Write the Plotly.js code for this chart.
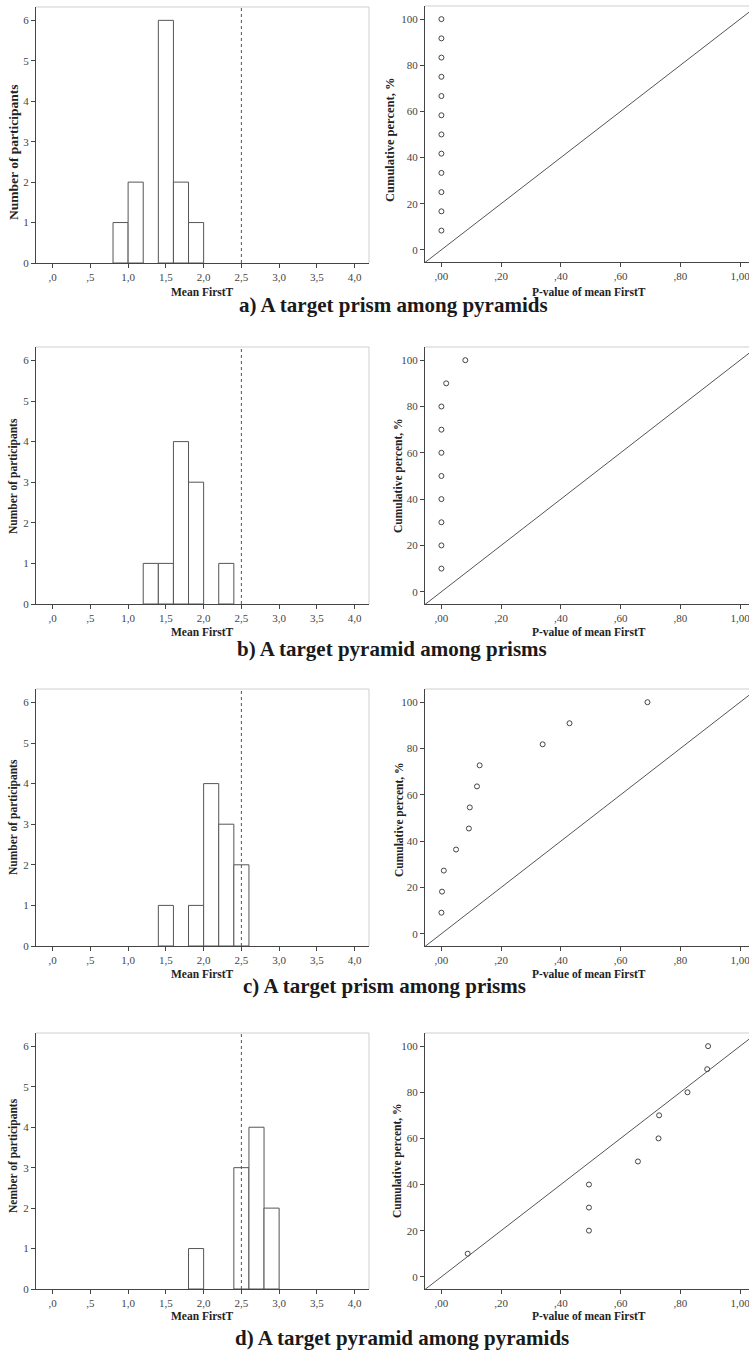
<!DOCTYPE html>
<html>
<head>
<meta charset="utf-8">
<script src="https://cdn.plot.ly/plotly-3.0.1.min.js"></script>
<style>html,body{margin:0;padding:0;background:#fff;}#chart{width:749px;height:1351px;}</style>
</head>
<body>
<div id="chart"></div>
<script>
// ---------- DATA ----------
const panelCaptions = ["a) A target prism among pyramids", "b) A target pyramid among prisms", "c) A target prism among prisms", "d) A target pyramid among pyramids"];
const histXTitle = "Mean FirstT";
const histYTitles = ["Number of participants", "Number of participants", "Number of participants", "Nember of participants"];
const ppXTitle = "P-value of mean FirstT";
const ppYTitle = "Cumulative percent, %";

const histTickVals = [0, 0.5, 1, 1.5, 2, 2.5, 3, 3.5, 4];
const histTickText = [",0", ",5", "1,0", "1,5", "2,0", "2,5", "3,0", "3,5", "4,0"];
const histYTicks = [0, 1, 2, 3, 4, 5, 6];
const ppTickVals = [0, 0.2, 0.4, 0.6, 0.8, 1.0];
const ppTickText = [",00", ",20", ",40", ",60", ",80", "1,00"];
const ppYTicks = [0, 20, 40, 60, 80, 100];
const criterionValue = 2.5;
const binWidth = 0.2;

// histograms: bin start and count
const binStartA = [0.8, 1.0, 1.4, 1.6, 1.8];
const countsA   = [1, 2, 6, 2, 1];
const binStartB = [1.2, 1.4, 1.6, 1.8, 2.2];
const countsB   = [1, 1, 4, 3, 1];
const binStartC = [1.4, 1.8, 2.0, 2.2, 2.4];
const countsC   = [1, 1, 4, 3, 2];
const binStartD = [1.8, 2.4, 2.6, 2.8];
const countsD   = [1, 3, 4, 2];

// P-P plots: p-value and cumulative percent
const pvalA = [0, 0, 0, 0, 0, 0, 0, 0, 0, 0, 0, 0];
const cumA  = [8.33, 16.67, 25, 33.33, 41.67, 50, 58.33, 66.67, 75, 83.33, 91.67, 100];
const pvalB = [0, 0, 0, 0, 0, 0, 0, 0, 0.016, 0.08];
const cumB  = [10, 20, 30, 40, 50, 60, 70, 80, 90, 100];
const pvalC = [0.0, 0.002, 0.008, 0.049, 0.092, 0.095, 0.119, 0.128, 0.339, 0.429, 0.690];
const cumC  = [9.09, 18.18, 27.27, 36.36, 45.45, 54.55, 63.64, 72.73, 81.82, 90.91, 100];
const pvalD = [0.088, 0.494, 0.494, 0.494, 0.658, 0.727, 0.729, 0.824, 0.89, 0.893];
const cumD  = [10, 20, 30, 40, 50, 60, 70, 80, 90, 100];
// reference line (expected = observed)
const refLineP = [-0.2, 1.2];

const hists = [[binStartA, countsA], [binStartB, countsB], [binStartC, countsC], [binStartD, countsD]];
const pps = [[pvalA, cumA], [pvalB, cumB], [pvalC, cumC], [pvalD, cumD]];

// ---------- LAYOUT GEOMETRY (pixels) ----------
const W = 749, H = 1351;
const px = v => v / W;
const py = v => 1 - v / H;
const leftX = [36, 369];
const rightX = [425, 749];
// [top, bottom] of plot areas
const leftY = [[7, 263], [347, 604], [689, 946], [1033, 1289]];
const rightY = [[6, 262], [347, 604], [689, 946], [1033, 1289]];
const captionY = [305, 649, 986, 1338];
const captionX = [393, 392, 385, 402];
const xTitleY = [292, 632, 974, 1316];
const leftYTitleX = [13, 14, 13, 13];
const leftYTitleC = [152, 476, 817, 1156];
const leftYTitleSize = [13.5, 11.5, 11.5, 11.5];
const rightYTitleX = [390, 399, 399, 397];
const rightYTitleC = [140, 476, 820, 1161];
const rightYTitleSize = [12.5, 11.5, 11.5, 11.5];

const SERIF = "Liberation Serif, Times New Roman, serif";
const AX = "#444";
const FRAME = "#cfcfcf";

const traces = [];
const layout = {
  width: W, height: H,
  margin: {l: 0, r: 0, t: 0, b: 0},
  paper_bgcolor: "#fff", plot_bgcolor: "#fff",
  showlegend: false,
  font: {family: SERIF, color: "#333"},
  shapes: [], annotations: []
};

function axisBase() {
  return {
    showgrid: false, zeroline: false, showline: true, linecolor: AX, linewidth: 1,
    ticks: "outside", ticklen: 4, tickcolor: AX, tickwidth: 1,
    tickfont: {family: SERIF, size: 11, color: "#444"},
    ticklabeloverflow: "allow",
    fixedrange: true
  };
}

for (let i = 0; i < 4; i++) {
  const nL = 2 * i + 1, nR = 2 * i + 2;
  const xL = "x" + nL, yL = "y" + nL, xR = "x" + nR, yR = "y" + nR;
  const xLk = "xaxis" + nL, yLk = "yaxis" + nL, xRk = "xaxis" + nR, yRk = "yaxis" + nR;

  // histogram bars
  traces.push({
    type: "bar", x: hists[i][0], y: hists[i][1], width: binWidth, offset: 0,
    marker: {color: "#ffffff", line: {color: "#555", width: 1}},
    xaxis: xL, yaxis: yL, hoverinfo: "skip"
  });
  // P-P points
  traces.push({
    type: "scatter", mode: "markers", x: pps[i][0], y: pps[i][1],
    marker: {symbol: "circle-open", size: 5, color: "#444", line: {width: 1, color: "#444"}},
    xaxis: xR, yaxis: yR, hoverinfo: "skip", cliponaxis: false
  });
  // reference diagonal
  traces.push({
    type: "scatter", mode: "lines", x: refLineP, y: refLineP.map(v => v * 100),
    line: {color: "#555", width: 1}, xaxis: xR, yaxis: yR, hoverinfo: "skip"
  });

  layout[xLk] = Object.assign(axisBase(), {
    domain: [px(leftX[0]), px(leftX[1])], anchor: yL,
    range: [-0.22, 4.19], tickmode: "array", tickvals: histTickVals, ticktext: histTickText
  });
  layout[yLk] = Object.assign(axisBase(), {
    domain: [py(leftY[i][1]), py(leftY[i][0])], anchor: xL,
    range: [0, 6.33], tickmode: "array", tickvals: histYTicks
  });
  layout[xRk] = Object.assign(axisBase(), {
    domain: [px(rightX[0]), px(rightX[1])], anchor: yR,
    range: [-0.055, 1.03], tickmode: "array", tickvals: ppTickVals, ticktext: ppTickText
  });
  layout[yRk] = Object.assign(axisBase(), {
    domain: [py(rightY[i][1]), py(rightY[i][0])], anchor: xR,
    range: [-5.3, 105.7], tickmode: "array", tickvals: ppYTicks
  });

  // light frame (top & right) for histograms
  layout.shapes.push({type: "line", xref: xL + " domain", yref: yL + " domain", x0: 0, x1: 1, y0: 1, y1: 1, line: {color: FRAME, width: 1}, layer: "below"});
  layout.shapes.push({type: "line", xref: xL + " domain", yref: yL + " domain", x0: 1, x1: 1, y0: 0, y1: 1, line: {color: FRAME, width: 1}, layer: "below"});
  layout.shapes.push({type: "line", xref: xR + " domain", yref: yR + " domain", x0: 0, x1: 1, y0: 1, y1: 1, line: {color: FRAME, width: 1}, layer: "below"});
  // criterion dashed line
  layout.shapes.push({type: "line", xref: xL, yref: yL + " domain", x0: criterionValue, x1: criterionValue, y0: 0, y1: 1, line: {color: "#555", width: 1, dash: "dot"}});

  // axis titles
  layout.annotations.push({text: "<b>" + histXTitle + "</b>", xref: "paper", yref: "paper",
    x: px((leftX[0] + leftX[1]) / 2), y: py(xTitleY[i]), xanchor: "center", yanchor: "middle",
    showarrow: false, font: {family: SERIF, size: 11.5, color: "#222"}});
  layout.annotations.push({text: "<b>" + ppXTitle + "</b>", xref: "paper", yref: "paper",
    x: px((rightX[0] + rightX[1]) / 2 + 2), y: py(xTitleY[i]), xanchor: "center", yanchor: "middle",
    showarrow: false, font: {family: SERIF, size: 11.5, color: "#222"}});
  layout.annotations.push({text: "<b>" + histYTitles[i] + "</b>", xref: "paper", yref: "paper",
    x: px(leftYTitleX[i]), y: py(leftYTitleC[i]), xanchor: "center", yanchor: "middle",
    textangle: -90, showarrow: false, font: {family: SERIF, size: leftYTitleSize[i], color: "#222"}});
  layout.annotations.push({text: "<b>" + ppYTitle + "</b>", xref: "paper", yref: "paper",
    x: px(rightYTitleX[i]), y: py(rightYTitleC[i]), xanchor: "center", yanchor: "middle",
    textangle: -90, showarrow: false, font: {family: SERIF, size: rightYTitleSize[i], color: "#222"}});
  // panel caption
  layout.annotations.push({text: "<b>" + panelCaptions[i] + "</b>", xref: "paper", yref: "paper",
    x: px(captionX[i]), y: py(captionY[i]), xanchor: "center", yanchor: "middle",
    showarrow: false, font: {family: SERIF, size: 21, color: "#1a1a1a"}});
}

Plotly.newPlot("chart", traces, layout, {displayModeBar: false, staticPlot: true});
</script>
</body>
</html>
